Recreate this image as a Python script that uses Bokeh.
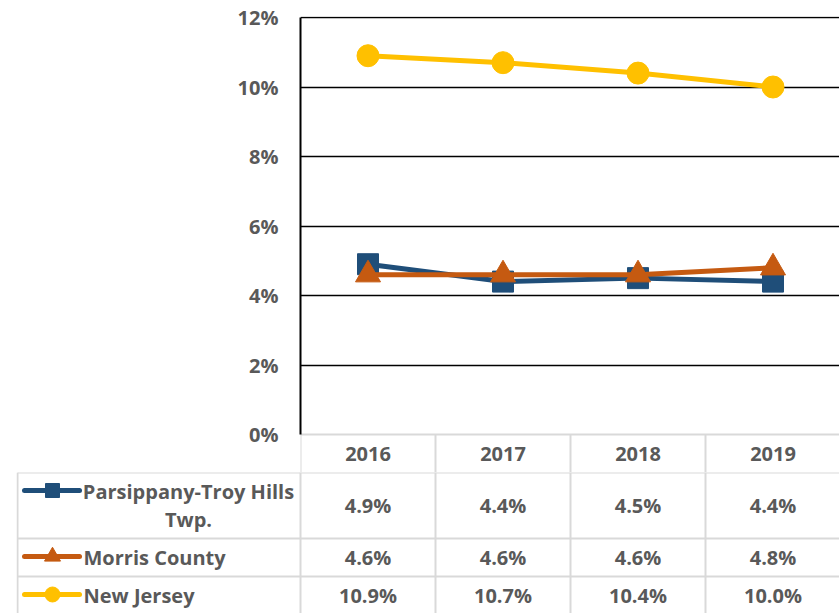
import textwrap
import numpy as np
from bokeh.plotting import figure
from bokeh.models import Range1d, FixedTicker
from bokeh.embed import file_html
from bokeh.resources import INLINE
from bokeh.core.properties import value

# ---------------- data ----------------
years = ["2016", "2017", "2018", "2019"]
series_names = ["Parsippany-Troy Hills Twp.", "Morris County", "New Jersey"]
parsippany = [4.9, 4.4, 4.5, 4.4]
morris_county = [4.6, 4.6, 4.6, 4.8]
new_jersey = [10.9, 10.7, 10.4, 10.0]
y_ticks = [0, 2, 4, 6, 8, 10, 12]

series_values = [parsippany, morris_county, new_jersey]

# ---------------- style ----------------
FONT = "Open Sans"
TXT = "#595959"
TGREY = "#D9D9D9"
colors = ["#1F4E79", "#C55A11", "#FFC000"]
markers = ["square", "triangle", "circle"]
msizes = [21, 25, 22]
legend_msizes = [14, 16, 15]
FS = "20px"

# ---------------- layout ----------------
W = 839
LEFT = 300            # frame left inside the top figure
PX_CAT = 135          # pixels per category
PX_PCT = 34.75        # pixels per percent
HEADER_PX = 38
TOP_H = 472
TAB_H = 141
row_heights = [66, 38, 38]

x_end = (W - LEFT) / PX_CAT
y_start = -HEADER_PX / PX_PCT
y_end = max(y_ticks) + 1 / PX_PCT
xc = np.arange(len(years)) + 0.5

p = figure(width=W, height=TOP_H, x_range=Range1d(0, x_end),
           y_range=Range1d(y_start, y_end), output_backend="svg",
           toolbar_location=None, x_axis_location=None,
           min_border_left=LEFT, min_border_right=0,
           min_border_top=16, min_border_bottom=0)
p.outline_line_color = None
p.background_fill_color = "white"
p.border_fill_color = "white"
p.xgrid.visible = False
p.ygrid.ticker = FixedTicker(ticks=y_ticks[1:])
p.ygrid.grid_line_color = "black"
p.ygrid.grid_line_width = 1.6

ax = p.yaxis[0]
ax.ticker = FixedTicker(ticks=y_ticks)
ax.major_label_overrides = {t: f"{t}%" for t in y_ticks}
ax.bounds = (0, max(y_ticks))
ax.axis_line_color = "black"
ax.axis_line_width = 2
ax.major_tick_out = 0
ax.major_tick_in = 0
ax.minor_tick_out = 0
ax.minor_tick_in = 0
ax.major_label_standoff = 22
ax.major_label_text_font = FONT
ax.major_label_text_font_style = "bold"
ax.major_label_text_font_size = FS
ax.major_label_text_color = TXT

# header row (years) under the plot
nb = len(years) + 1
p.segment(x0=np.arange(nb), y0=[y_start] * nb, x1=np.arange(nb), y1=[0] * nb,
          line_color=TGREY, line_width=2)
p.segment(x0=[0], y0=[0], x1=[x_end], y1=[0], line_color=TGREY, line_width=2)
p.text(x=xc, y=[y_start / 2] * len(years), text=years, text_align="center",
       text_baseline="middle", text_font=value(FONT), text_font_style="bold",
       text_font_size=FS, text_color=TXT)

# series
for i in [2, 0, 1]:
    vals = series_values[i]
    p.line(xc, vals, line_color=colors[i], line_width=5)
    p.scatter(xc, vals, marker=markers[i], size=msizes[i],
              fill_color=colors[i], line_color=colors[i])

# ---------------- data table ----------------
def tx(page_px):
    return (page_px - 300) / PX_CAT

t = figure(width=W, height=TAB_H, x_range=Range1d(tx(16), x_end),
           y_range=Range1d(TAB_H, 0), output_backend="svg",
           toolbar_location=None, x_axis_location=None, y_axis_location=None,
           min_border_left=16, min_border_right=0, min_border_top=0,
           min_border_bottom=0)
t.outline_line_color = None
t.xgrid.visible = False
t.ygrid.visible = False
t.background_fill_color = "white"
t.border_fill_color = "white"

bounds = np.concatenate([[0], np.cumsum(row_heights)])
centers = (bounds[:-1] + bounds[1:]) / 2
t.segment(x0=[tx(17)] * len(bounds), y0=bounds, x1=[x_end] * len(bounds), y1=bounds,
          line_color=TGREY, line_width=2)
vx = np.concatenate([[tx(17)], np.arange(nb)])
t.segment(x0=vx, y0=[0] * len(vx), x1=vx, y1=[bounds[-1]] * len(vx),
          line_color=TGREY, line_width=2)

LINE_H = 28
for r, name in enumerate(series_names):
    vals = series_values[r]
    t.text(x=xc, y=[centers[r]] * len(vals), text=[f"{v:.1f}%" for v in vals],
           text_align="center", text_baseline="middle", text_font=value(FONT),
           text_font_style="bold", text_font_size=FS, text_color=TXT)
    lines = textwrap.fill(name, 21).split("\n")
    n = len(lines)
    ys = [centers[r] - (n - 1) / 2 * LINE_H + k * LINE_H for k in range(n)]
    if n > 1:
        t.text(x=[tx(188)] * n, y=ys, text=lines, text_align="center",
               text_baseline="middle", text_font=value(FONT),
               text_font_style="bold", text_font_size=FS, text_color=TXT)
    else:
        t.text(x=[tx(83)], y=ys, text=lines, text_align="left",
               text_baseline="middle", text_font=value(FONT),
               text_font_style="bold", text_font_size=FS, text_color=TXT)
    # legend key
    t.line([tx(24), tx(79)], [ys[0] - 1, ys[0] - 1], line_color=colors[r],
           line_width=5, line_cap="round")
    t.scatter([tx(52)], [ys[0] - 1], marker=markers[r], size=legend_msizes[r],
              fill_color=colors[r], line_color=colors[r])

open("out.html", "w").write(file_html([p, t], INLINE))
